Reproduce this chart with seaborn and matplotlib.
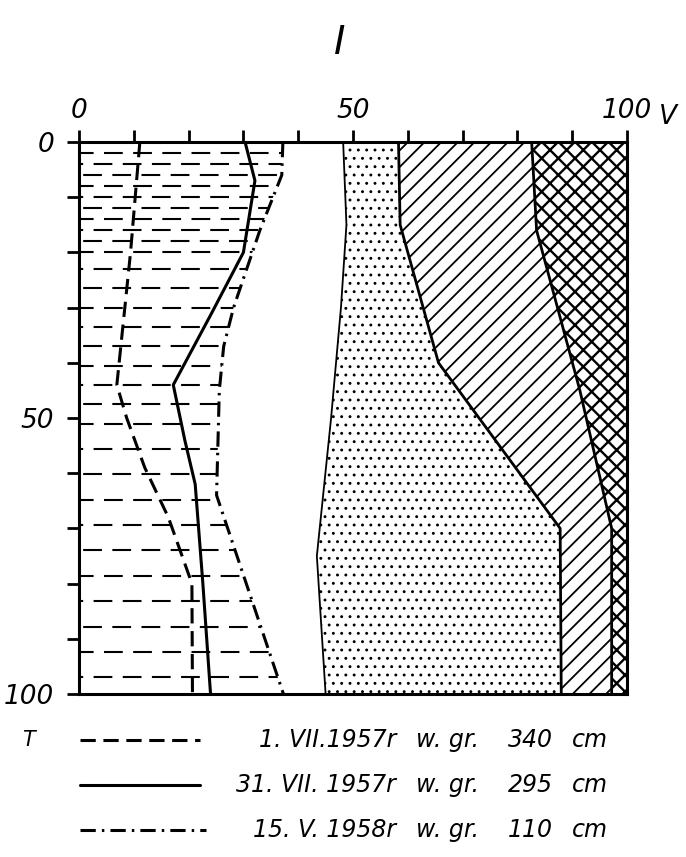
import numpy as np
import pandas as pd
import seaborn as sns
import matplotlib.pyplot as plt
from matplotlib.patches import Polygon

# depth T (0-100, top to bottom) against share V (0-100)
t_dash = [0, 20, 44, 50, 59, 68, 80, 100]
v_dash = [11.1, 9.4, 6.9, 8.7, 12.0, 16.3, 20.6, 20.7]
t_solid = [0, 7, 20, 31, 44, 54, 62, 80, 100]
v_solid = [30.3, 32.1, 30.0, 24.2, 17.2, 19.3, 21.2, 22.6, 24.0]
t_dashdot = [0, 6, 16, 30, 37, 45, 64, 100]
v_dashdot = [37.2, 37.0, 33.0, 28.2, 26.4, 25.6, 25.1, 37.3]

# layer boundaries
t_sand = [0, 15, 30, 50, 75, 100]
v_sand = [48.2, 48.8, 47.8, 46.0, 43.4, 45.0]
t_hatch = [0, 15, 40, 70, 100]
v_hatch = [58.3, 58.6, 65.6, 87.8, 88.0]
t_cross = [0, 16, 45, 70, 100]
v_cross = [82.6, 83.5, 91.4, 97.2, 97.2]

series = ['1. VII.1957r', '31. VII. 1957r', '15. V. 1958r']
levels = ['340', '295', '110']

df = pd.concat([
    pd.DataFrame({'V': v_dash, 'T': t_dash, 'date': series[0]}),
    pd.DataFrame({'V': v_solid, 'T': t_solid, 'date': series[1]}),
    pd.DataFrame({'V': v_dashdot, 'T': t_dashdot, 'date': series[2]}),
])
styles = {series[0]: (5, 2.5), series[1]: '', series[2]: (5, 2, 0.8, 2)}

sns.set_style('ticks')
plt.rcParams['font.family'] = ['DejaVu Sans']
plt.rcParams['font.style'] = 'italic'
plt.rcParams['text.color'] = 'black'
plt.rcParams['xtick.labelcolor'] = 'black'
plt.rcParams['ytick.labelcolor'] = 'black'
plt.rcParams['hatch.color'] = 'black'

fig = plt.figure(figsize=(6.86, 8.57), dpi=100)
ax = fig.add_axes([0.1152, 0.1902, 0.7988, 0.6441])
ax.set_xlim(0, 100)
ax.set_ylim(100, 0)

# clay: horizontal dashes from 0 to the dash-dot curve
clay = Polygon(np.c_[np.r_[0, v_dashdot, 0], np.r_[0, t_dashdot, 100]],
               closed=True, facecolor='none', edgecolor='none')
ax.add_patch(clay)
rows = np.r_[np.arange(2, 22, 2), np.arange(23, 50, 3.5), np.arange(51, 100, 4.6)]
for i, r in enumerate(rows):
    ln, = ax.plot([0, 45], [r, r], color='black', lw=1.5,
                  linestyle=(5 * (i % 3) + 2, (9, 5)), solid_capstyle='butt')
    ln.set_clip_path(clay)

# sand (stipple), sloped hatch and cross hatch
with plt.rc_context({'hatch.linewidth': 0.9}):
    ax.fill(np.r_[v_sand, v_hatch[::-1]], np.r_[t_sand, t_hatch[::-1]],
            facecolor='white', edgecolor='black', hatch='..', lw=0)
with plt.rc_context({'hatch.linewidth': 1.3}):
    ax.fill(np.r_[v_hatch, v_cross[::-1]], np.r_[t_hatch, t_cross[::-1]],
            facecolor='white', edgecolor='black', hatch='//', lw=0)
with plt.rc_context({'hatch.linewidth': 1.7}):
    ax.fill(np.r_[v_cross, 100, 100], np.r_[t_cross, 100, 0],
            facecolor='white', edgecolor='black', hatch='xx', lw=0)

ax.plot(v_sand, t_sand, color='black', lw=1.3)
ax.plot(v_hatch, t_hatch, color='black', lw=2)
ax.plot(v_cross, t_cross, color='black', lw=2)

sns.lineplot(data=df, x='V', y='T', style='date', dashes=styles, color='black',
             lw=2.2, orient='y', estimator=None, sort=False, legend=False, ax=ax)
ax.set_xlabel('')
ax.set_ylabel('')

ax.xaxis.tick_top()
ax.set_xticks([0, 50, 100])
ax.set_xticks(range(0, 101, 10), minor=True)
ax.set_yticks([0, 50, 100])
ax.set_yticks(range(0, 101, 10), minor=True)
ax.tick_params(which='both', length=9, width=2, direction='out', color='black')
ax.tick_params(axis='x', which='major', labelsize=19, pad=4)
ax.tick_params(axis='y', which='major', labelsize=19, pad=9)
for s in ax.spines.values():
    s.set_visible(True)
    s.set_linewidth(2.2)
    s.set_color('black')

# text and legend laid out in pixel coordinates
lax = fig.add_axes([0, 0, 1, 1])
lax.set_xlim(0, 686)
lax.set_ylim(857, 0)
lax.axis('off')

lax.text(340, 43, 'I', fontsize=28, ha='center', va='center')
lax.text(668, 117, 'V', fontsize=19, ha='center', va='center')
lax.text(28, 740, 'T', fontsize=15, ha='center', va='center')

rows_y = [740, 785, 830]
ends = [200, 200, 206]
for i, name in enumerate(series):
    ls = styles[name]
    if ls == '':
        lax.plot([80, ends[i]], [rows_y[i]] * 2, color='black', lw=2.2)
    else:
        lax.plot([80, ends[i]], [rows_y[i]] * 2, color='black', lw=2.2, dashes=ls)
    lax.text(396, rows_y[i], name, fontsize=17, ha='right', va='center')
    lax.text(416, rows_y[i], 'w. gr.', fontsize=17, ha='left', va='center')
    lax.text(508, rows_y[i], levels[i], fontsize=17, ha='left', va='center')
    lax.text(608, rows_y[i], 'cm', fontsize=17, ha='right', va='center')

fig.savefig('out.png', dpi=100, facecolor='white')
